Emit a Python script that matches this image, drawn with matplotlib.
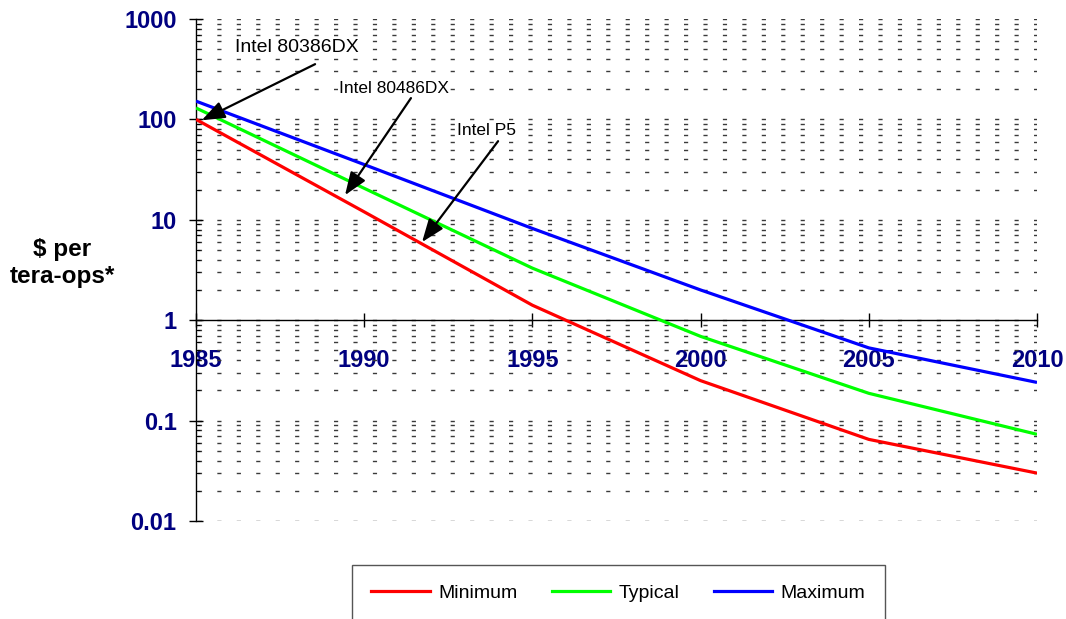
#!/usr/bin/env python3
"""Cost per tera-ops, 1985-2010, log scale, with the Intel CPU callouts."""

import matplotlib
matplotlib.use("Agg")
import matplotlib.pyplot as plt
from matplotlib.lines import Line2D

plt.rcParams["font.family"] = ["Liberation Sans", "DejaVu Sans"]

years = [1985, 1990, 1995, 2000, 2005, 2010]
minimum = [100, 12, 1.41, 0.25, 0.065, 0.030]
typical = [130, 20.6, 3.3, 0.69, 0.187, 0.073]
maximum = [152, 35.5, 8.2, 2.0, 0.53, 0.24]

series = [("Minimum", minimum, "#ff0000"),
          ("Typical", typical, "#00ff00"),
          ("Maximum", maximum, "#0000ff")]

# callouts: label, label anchor (year, value), arrow tail, arrow head, font size
chips = ["Intel 80386DX", "Intel 80486DX", "Intel P5"]
chip_text_at = [(1986.16, 524), (1989.25, 204), (1992.76, 78)]
chip_tail = [(1988.54, 355), (1991.39, 163), (1993.98, 60.7)]
chip_head = [(1985.17, 98), (1989.43, 17.6), (1991.72, 6.0)]
chip_size = [14, 12.5, 12.5]

NAVY = "#000080"

fig = plt.figure(figsize=(10.66, 6.19), dpi=100)
ax = fig.add_axes([196 / 1066, 1 - 521 / 619, (1037 - 196) / 1066, (521 - 19) / 619])

ax.set_yscale("log")
ax.set_ylim(0.01, 1000)
ax.set_xlim(1985, 2010)

for name, vals, col in series:
    ax.plot(years, vals, color=col, lw=2.3, solid_capstyle="butt", zorder=3)

# horizontal dashed grid on every decade and sub-decade
ax.yaxis.grid(True, which="both", color="#3a3a3a", lw=1.0, ls=(13, (3, 11)))
ax.xaxis.grid(False)
ax.set_axisbelow(True)

for s in ("top", "right"):
    ax.spines[s].set_visible(False)
ax.spines["bottom"].set_position(("data", 1))
ax.spines["bottom"].set_linewidth(1.0)
ax.spines["left"].set_linewidth(1.0)

ax.set_xticks(years)
ax.set_xticklabels([str(y) for y in years])
ax.set_yticks([0.01, 0.1, 1, 10, 100, 1000])
ax.set_yticklabels(["0.01", "0.1", "1", "10", "100", "1000"])

ax.tick_params(axis="x", which="major", direction="inout", length=10, width=1,
               pad=16, labelsize=17, labelcolor=NAVY)
ax.tick_params(axis="x", which="minor", length=0)
ax.tick_params(axis="y", which="major", direction="inout", length=10, width=1,
               pad=9, labelsize=17, labelcolor=NAVY)
ax.tick_params(axis="y", which="minor", direction="in", length=3, width=0.8)
for lab in ax.get_xticklabels() + ax.get_yticklabels():
    lab.set_fontweight("bold")

for text, (tx, ty), tail, head, fs in zip(chips, chip_text_at, chip_tail, chip_head, chip_size):
    ax.text(tx, ty, text, fontsize=fs, ha="left", va="center", color="black", zorder=5,
            bbox=dict(facecolor="white", edgecolor="none", pad=1.0))
    ax.annotate("", xy=head, xytext=tail,
                arrowprops=dict(arrowstyle="-|>,head_length=1.0,head_width=0.38",
                                color="black", lw=1.6, mutation_scale=14,
                                shrinkA=0, shrinkB=0),
                zorder=5)

fig.text(62 / 1066, 1 - 263 / 619, "$ per\ntera-ops*", fontsize=17.5, fontweight="bold",
         ha="center", va="center", linespacing=1.25)

handles = [Line2D([], [], color=col, lw=2.3) for _, _, col in series]
leg = fig.legend(handles, [n for n, _, _ in series], loc="upper left",
                 bbox_to_anchor=(352 / 1066, 1 - 565 / 619), ncol=3, fontsize=14,
                 frameon=True, fancybox=False, edgecolor="#555555", framealpha=1,
                 handlelength=3.0, handletextpad=0.45, columnspacing=1.75,
                 borderpad=1.0, borderaxespad=0)
leg.get_frame().set_linewidth(1.0)

fig.savefig("out.png", dpi=100)
